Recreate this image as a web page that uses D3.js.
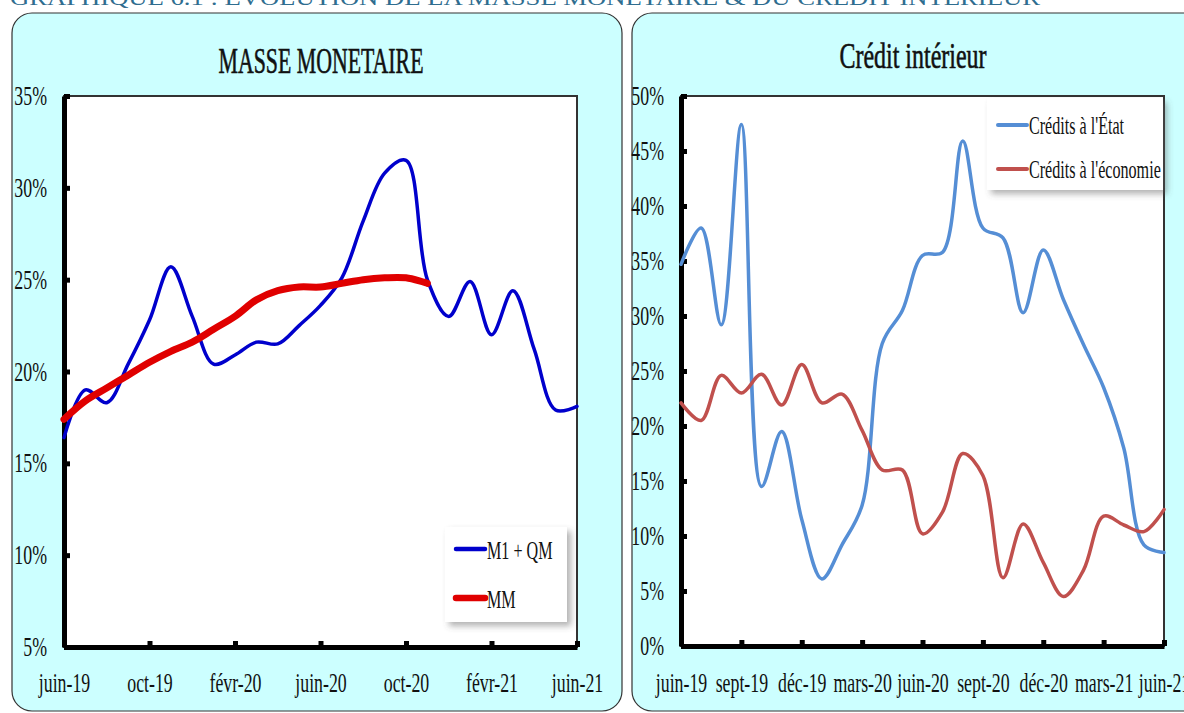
<!DOCTYPE html>
<html><head><meta charset="utf-8">
<script src="https://cdn.jsdelivr.net/npm/d3@7"></script>
<style>html,body{margin:0;padding:0;background:#fff;overflow:hidden}svg{display:block}</style>
</head><body>
<svg id="c" width="1184" height="713"></svg>
<script>
// ---------- DATA ----------
const months = ["2019-06","2019-07","2019-08","2019-09","2019-10","2019-11","2019-12",
  "2020-01","2020-02","2020-03","2020-04","2020-05","2020-06","2020-07","2020-08","2020-09",
  "2020-10","2020-11","2020-12","2021-01","2021-02","2021-03","2021-04","2021-05","2021-06"];
const leftTickLabels = ["juin-19","oct-19","févr-20","juin-20","oct-20","févr-21","juin-21"];
const rightTickLabels = ["juin-19","sept-19","déc-19","mars-20","juin-20","sept-20","déc-20","mars-21","juin-21"];
const leftYTicks = [5,10,15,20,25,30,35];
const rightYTicks = [0,5,10,15,20,25,30,35,40,45,50];
// Masse monétaire (%)
const m1qm = [16.4,19.0,18.3,20.4,22.8,25.7,23.0,20.4,20.9,21.6,21.5,22.5,23.6,25.1,28.2,30.8,31.5,25.0,23.0,24.9,22.0,24.4,21.2,17.9,18.1];
const mm   = [17.4,18.4,19.1,19.8,20.5,21.1,21.6,22.3,23.0,23.9,24.4,24.6,24.6,24.8,25.0,25.1,25.1,24.8];
// Crédit intérieur (%)
const creditEtat = [34.7,38.0,29.2,47.4,14.5,19.5,11.5,6.1,9.2,12.8,27.5,30.5,35.5,35.8,45.9,38.0,37.1,30.3,36.0,31.5,27.4,23.5,18.0,9.2,8.5];
const creditEco  = [22.1,20.5,24.6,23.0,24.7,21.9,25.6,22.1,22.9,19.6,16.0,16.0,10.2,12.2,17.5,15.5,6.2,11.1,7.6,4.5,6.9,11.8,11.0,10.4,12.4];

// ---------- DRAW ----------
const svg = d3.select("#c");
const SERIF = "'Liberation Serif','DejaVu Serif',serif";
const defs = svg.append("defs");
const f = defs.append("filter").attr("id","sh").attr("x","-20%").attr("y","-20%").attr("width","150%").attr("height","150%");
f.append("feDropShadow").attr("dx",4).attr("dy",4).attr("stdDeviation",3).attr("flood-color","#555").attr("flood-opacity",0.45);

// page title (cut at top, as in the reference)
svg.append("text").attr("x",10).attr("y",5).attr("font-family",SERIF).attr("font-size",22)
  .attr("fill","#2f6d8f").attr("textLength",1030).attr("lengthAdjust","spacingAndGlyphs")
  .text("GRAPHIQUE 6.1 : ÉVOLUTION DE LA MASSE MONETAIRE & DU CRÉDIT INTÉRIEUR");

// panels
svg.append("rect").attr("x",12).attr("y",13).attr("width",610).attr("height",698).attr("rx",20)
  .attr("fill","#ccffff").attr("stroke","#333").attr("stroke-width",1.2);
svg.append("rect").attr("x",632).attr("y",13).attr("width",620).attr("height",698).attr("rx",20)
  .attr("fill","#ccffff").attr("stroke","#333").attr("stroke-width",1.2);

function title(x,y,txt,len,size){
  svg.append("text").attr("x",x).attr("y",y).attr("text-anchor","middle").attr("font-family",SERIF)
    .attr("font-size",size).attr("fill","#111").attr("stroke","#111").attr("stroke-width",0.6)
    .attr("textLength",len).attr("lengthAdjust","spacingAndGlyphs").text(txt);
}
title(321,73,"MASSE MONETAIRE",205,36);
title(913,68,"Crédit intérieur",147,35);

function chart(o){
  const x = d3.scaleLinear().domain([0,24]).range([o.x0,o.x1]);
  const y = d3.scaleLinear().domain(o.ydom).range([o.yb,o.yt]);
  const g = svg.append("g");
  g.append("rect").attr("x",o.x0).attr("y",o.yt).attr("width",o.x1-o.x0).attr("height",o.yb-o.yt)
    .attr("fill","#fff").attr("stroke","#333").attr("stroke-width",2);
  const SX = 0.66, FS = 27;
  // Y axis
  const ya = g.append("g").attr("transform",`translate(${o.x0},0)`)
    .call(d3.axisLeft(y).tickValues(o.yticks).tickFormat(d=>d+"%").tickSize(-6).tickSizeOuter(0).tickPadding(o.ypad/SX));
  ya.select(".domain").attr("stroke","#000").attr("stroke-width",5);
  ya.selectAll(".tick line").attr("stroke","#000").attr("stroke-width",5);
  ya.selectAll(".tick text").attr("font-family",SERIF).attr("font-size",FS).attr("fill","#111")
    .attr("transform",`scale(${SX},1)`);
  // X axis
  const xa = g.append("g").attr("transform",`translate(0,${o.yb})`)
    .call(d3.axisBottom(x).tickValues(o.xticks).tickFormat((d,i)=>o.xlabels[i]).tickSize(-6).tickSizeOuter(0).tickPadding(o.xpad));
  xa.select(".domain").attr("stroke","#000").attr("stroke-width",5);
  xa.selectAll(".tick line").attr("stroke","#000").attr("stroke-width",5);
  xa.selectAll(".tick text").attr("font-family",SERIF).attr("font-size",FS).attr("fill","#111")
    .attr("transform",`scale(${SX},1)`);
  ya.raise();
  const line = d3.line().x((d,i)=>x(i)).y(d=>y(d)).curve(d3.curveCatmullRom.alpha(0.5));
  o.series.forEach(s=>{
    g.append("path").attr("d",line(s.values)).attr("fill","none").attr("stroke",s.color)
      .attr("stroke-width",s.w).attr("stroke-linecap","round").attr("stroke-linejoin","round");
  });
  // legend
  const L = o.legend;
  g.append("rect").attr("x",L.x).attr("y",L.y).attr("width",L.w).attr("height",L.h).attr("fill","#fff").attr("filter","url(#sh)");
  o.series.forEach((s,i)=>{
    const yy = L.ly[i];
    g.append("line").attr("x1",L.lx).attr("x2",L.lx+29).attr("y1",yy).attr("y2",yy)
      .attr("stroke",s.color).attr("stroke-width",s.lw).attr("stroke-linecap","round");
    g.append("text").attr("transform",`translate(${L.lx+31},${yy+L.dy}) scale(0.62,1)`)
      .attr("font-family",SERIF).attr("font-size",L.fs).attr("fill","#111").text(s.name);
  });
}

chart({x0:64,x1:577,yt:96,yb:647,ydom:[5,35],yticks:leftYTicks,ypad:17,xpad:26,
  xticks:[0,4,8,12,16,20,24],xlabels:leftTickLabels,
  series:[{name:"M1 + QM",values:m1qm,color:"#0000cc",w:3.5,lw:4.5},
          {name:"MM",values:mm,color:"#e00000",w:7,lw:6.5}],
  legend:{x:445,y:527,w:122,h:95,lx:456,fs:26,dy:10,ly:[549,598]}});

chart({x0:681,x1:1164,yt:96,yb:646,ydom:[0,50],yticks:rightYTicks,ypad:17,xpad:27,
  xticks:[0,3,6,9,12,15,18,21,24],xlabels:rightTickLabels,
  series:[{name:"Crédits à l'État",values:creditEtat,color:"#558ed5",w:3.5,lw:4},
          {name:"Crédits à l'économie",values:creditEco,color:"#c0504d",w:3.5,lw:4}],
  legend:{x:987,y:98,w:176,h:92,lx:998,fs:26,dy:9,ly:[125,169]}});
</script>
</body></html>
